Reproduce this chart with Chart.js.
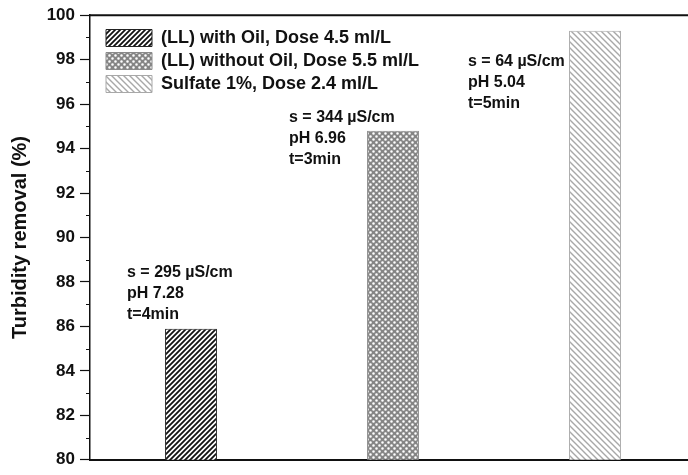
<!DOCTYPE html>
<html>
<head>
<meta charset="utf-8">
<script src="https://cdn.jsdelivr.net/npm/chart.js@4.4.0/dist/chart.umd.min.js"></script>
<style>
  body { margin: 0; background: #fff; overflow: hidden; }
  #wrap { width: 696px; height: 475px; }
</style>
</head>
<body>
<div id="wrap"><canvas id="myChart" width="696" height="475"></canvas></div>
<script>
// data
var categories = ['LL with oil', 'LL without oil', 'Sulfate 1%'];
var seriesNames = ['(LL) with Oil, Dose 4.5 ml/L', '(LL) without Oil, Dose 5.5 ml/L', 'Sulfate 1%, Dose 2.4 ml/L'];
var removal = [85.9, 94.8, 99.3];
var notes = [
    ['s = 295 µS/cm', 'pH 7.28', 't=4min'],
    ['s = 344 µS/cm', 'pH 6.96', 't=3min'],
    ['s = 64 µS/cm', 'pH 5.04', 't=5min']
];
var yTicks = [80, 82, 84, 86, 88, 90, 92, 94, 96, 98, 100];

var FONT = '"Liberation Sans", Arial, sans-serif';

// hatch tiles
function stripes(bg, fg, size, lw, slash) {
    var c = document.createElement('canvas');
    c.width = size; c.height = size;
    var g = c.getContext('2d');
    g.fillStyle = bg;
    g.fillRect(0, 0, size, size);
    g.strokeStyle = fg;
    g.lineWidth = lw;
    g.beginPath();
    if (slash) {
        g.moveTo(-1, 1); g.lineTo(1, -1);
        g.moveTo(0, size); g.lineTo(size, 0);
        g.moveTo(size - 1, size + 1); g.lineTo(size + 1, size - 1);
    } else {
        g.moveTo(-1, size - 1); g.lineTo(1, size + 1);
        g.moveTo(0, 0); g.lineTo(size, size);
        g.moveTo(size - 1, -1); g.lineTo(size + 1, 1);
    }
    g.stroke();
    return g.createPattern(c, 'repeat');
}

function dots(bg, fg, size, r) {
    var c = document.createElement('canvas');
    c.width = size; c.height = size;
    var g = c.getContext('2d');
    g.fillStyle = bg;
    g.fillRect(0, 0, size, size);
    g.fillStyle = fg;
    g.beginPath();
    g.arc(size / 4, size / 4, r, 0, Math.PI * 2);
    g.arc(size * 3 / 4, size * 3 / 4, r, 0, Math.PI * 2);
    g.fill();
    return g.createPattern(c, 'repeat');
}

var fills = [
    stripes('#fff', '#111', 5, 1.8, true),
    dots('#858585', '#fff', 6, 1.3),
    stripes('#fff', '#a8a8a8', 6, 1.4, false)
];
var borders = ['#222', '#8a8a8a', '#a8a8a8'];

var datasets = seriesNames.map(function (name, i) {
    return {
        label: name,
        data: removal.map(function (v, j) { return j === i ? v : null; }),
        backgroundColor: fills[i],
        borderColor: borders[i],
        borderWidth: 1,
        borderSkipped: false,
        skipNull: true,
        categoryPercentage: 1,
        barPercentage: 0.257
    };
});

// text next to the bars, first line centre in data units, x offset from bar centre
var notePos = [
    { dx: -64, y: 88.43 },
    { dx: -104, y: 95.38 },
    { dx: -127, y: 97.91 }
];

var extras = {
    id: 'extras',
    afterLayout: function (chart) {
        chart.legend.left += 11;
        chart.legend.top += 24;
    },
    afterDatasetsDraw: function (chart) {
        var ctx = chart.ctx;
        var area = chart.chartArea;
        var xs = chart.scales.x, ys = chart.scales.y;
        ctx.save();
        // top frame line
        ctx.strokeStyle = '#111';
        ctx.lineWidth = 2;
        ctx.beginPath();
        ctx.moveTo(area.left, area.top);
        ctx.lineTo(area.right + 2, area.top);
        ctx.stroke();
        // minor ticks
        ctx.lineWidth = 1.2;
        ctx.beginPath();
        for (var v = 81; v < 100; v += 2) {
            var py = Math.round(ys.getPixelForValue(v)) + 0.5;
            ctx.moveTo(area.left - 4, py);
            ctx.lineTo(area.left, py);
        }
        ctx.stroke();
        // notes
        ctx.fillStyle = '#111';
        ctx.font = 'bold 16px ' + FONT;
        ctx.textBaseline = 'middle';
        ctx.textAlign = 'left';
        notes.forEach(function (lines, i) {
            var x0 = xs.getPixelForValue(i) + notePos[i].dx;
            var y0 = ys.getPixelForValue(notePos[i].y);
            lines.forEach(function (t, k) {
                ctx.fillText(t, x0, y0 + k * 21);
            });
        });
        ctx.restore();
    }
};

var ctx = document.getElementById('myChart').getContext('2d');
var chart = new Chart(ctx, {
    type: 'bar',
    data: {
        labels: categories,
        datasets: datasets
    },
    options: {
        responsive: false,
        animation: false,
        layout: { padding: { top: 15, right: 0, left: 0, bottom: 0 } },
        plugins: {
            tooltip: { enabled: false },
            legend: {
                position: 'chartArea',
                align: 'start',
                labels: {
                    boxWidth: 46,
                    boxHeight: 17,
                    padding: 5,
                    color: '#111',
                    font: { family: FONT, size: 18, weight: 'bold' },
                    generateLabels: function (chart) {
                        return chart.data.datasets.map(function (ds, i) {
                            return {
                                text: ds.label,
                                fillStyle: ds.backgroundColor,
                                strokeStyle: ds.borderColor,
                                lineWidth: 1,
                                fontColor: '#111',
                                datasetIndex: i
                            };
                        });
                    }
                }
            }
        },
        scales: {
            x: {
                type: 'category',
                offset: true,
                ticks: { display: false },
                grid: { display: false },
                border: { display: true, color: '#111', width: 2 },
                afterFit: function (scale) { scale.height = 7; }
            },
            y: {
                min: 80,
                max: 100,
                afterBuildTicks: function (scale) {
                    scale.ticks = yTicks.map(function (v) { return { value: v }; });
                },
                ticks: {
                    color: '#111',
                    padding: 5,
                    font: { family: FONT, size: 17, weight: 'bold' }
                },
                grid: {
                    drawOnChartArea: false,
                    drawTicks: true,
                    tickLength: 10,
                    tickColor: '#111',
                    tickWidth: 1.2
                },
                border: { display: true, color: '#111', width: 1.5 },
                title: {
                    display: true,
                    text: 'Turbidity removal (%)',
                    color: '#111',
                    padding: { top: 8, bottom: 4 },
                    font: { family: FONT, size: 20, weight: 'bold' }
                },
                afterFit: function (scale) { scale.width = 90; }
            }
        }
    },
    plugins: [extras]
});
</script>
</body>
</html>
